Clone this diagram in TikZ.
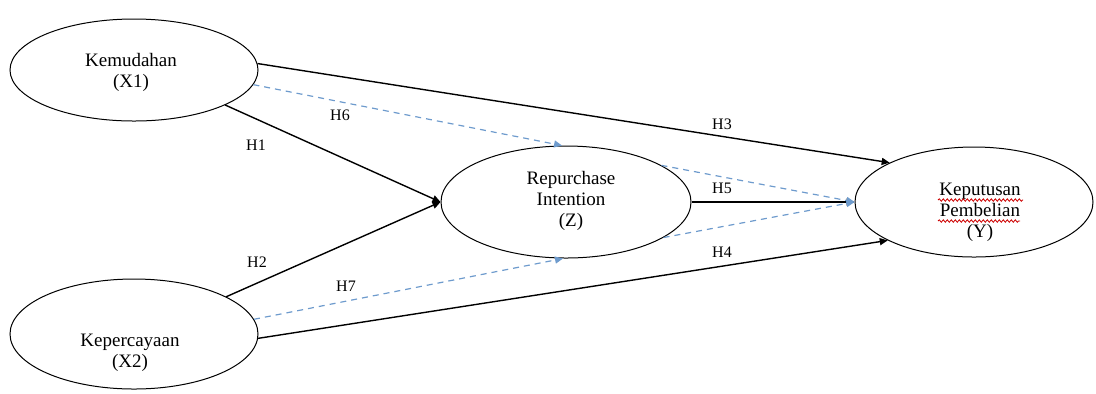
\documentclass[tikz,border=0pt]{standalone}
\usepackage{fontspec}
\setmainfont{Liberation Serif}
\usetikzlibrary{shapes.geometric,arrows.meta,calc,decorations.pathmorphing}
\definecolor{hblue}{RGB}{110,155,205}
\tikzstyle{var} = [draw, ellipse, inner sep=0pt, line width=0.5pt]
\tikzstyle{vartext} = [align=center, inner sep=0pt, font=\fontsize{9.5}{10.5}\selectfont]
\tikzstyle{hyp} = [inner sep=1pt, font=\fontsize{8}{9}\selectfont]
\tikzstyle{direct} = [->, line width=0.7pt]
\tikzstyle{indirect} = [->, hblue, dash pattern=on 3pt off 2.5pt, line width=0.6pt]
\tikzstyle{spell} = [red!80!black, line width=0.4pt, decorate, decoration={snake, amplitude=0.6pt, segment length=2pt}]

\begin{document}
\begin{tikzpicture}[x=0.5pt, y=-0.5pt, >={Triangle[length=4pt,width=3.5pt]}]
        \useasboundingbox (0,0) rectangle (1096,393);

        % variables
        \node [var, minimum width=124pt, minimum height=51pt] (x1) at (134,70) {};
        \node [var, minimum width=124pt, minimum height=55pt] (x2) at (134,334) {};
        \node [var, minimum width=125pt, minimum height=56pt] (z) at (566,202) {};
        \node [var, minimum width=119pt, minimum height=55pt] (y) at (974,202) {};

        \node [vartext] (x1t) at (131,72) {Kemudahan\\(X1)};
        \node [vartext] (x2t) at (130,353) {Kepercayaan\\(X2)};
        \node [vartext] (zt) at (571,201) {Repurchase\\Intention\\(Z)};
        \node [vartext] (yt) at (980,212) {Keputusan\\Pembelian\\(Y)};

        \draw [spell] ($(yt)+(-42,-12)$) -- ($(yt)+(43,-12)$);
        \draw [spell] ($(yt)+(-42,9)$) -- ($(yt)+(40,9)$);

        % direct effects
        \draw [direct] (x1.-21) -- (z.west);
        \draw [direct] (x2.22) -- (z.west);
        \draw [direct] (x1.3) -- (y.155);
        \draw [direct] (x2.-2) -- (y.204);
        \draw [direct] (z.east) -- (y.west);

        % indirect effects
        \draw [indirect] (x1.-7) -- (z.94);
        \draw [indirect] (x2.7) -- (z.-93);
        \draw [indirect] (z.21) -- (y.west);
        \draw [indirect] (z.-20) -- (y.west);

        % hypotheses
        \node [hyp] (h1) at (256,145) {H1};
        \node [hyp] (h2) at (257,262) {H2};
        \node [hyp] (h3) at (722,124) {H3};
        \node [hyp] (h4) at (722,252) {H4};
        \node [hyp] (h5) at (722,188) {H5};
        \node [hyp] (h6) at (340,115) {H6};
        \node [hyp] (h7) at (346,286) {H7};
\end{tikzpicture}
\end{document}
